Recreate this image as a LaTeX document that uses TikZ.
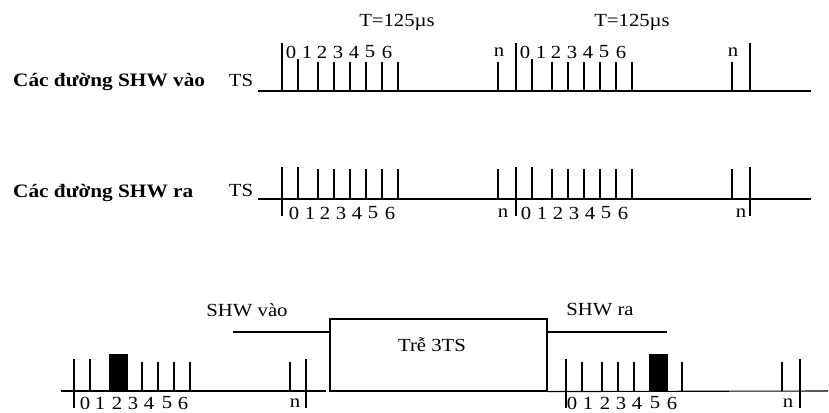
\documentclass[tikz,border=0pt]{standalone}
\usepackage{fontspec}
\setmainfont{Liberation Serif}[FakeStretch=1.12]
\begin{document}
\begin{tikzpicture}[x=1pt,y=-1pt,
  lbl/.style={inner sep=0pt,font=\fontsize{18.5}{18.5}\selectfont},
  ttl/.style={inner sep=0pt,anchor=west,font=\fontsize{19}{19}\selectfont\bfseries},
  base/.style={line width=1.1pt},
  tick/.style={line width=1.4pt},
  blk/.style={fill=black,draw=black,line width=0.8pt}]
\useasboundingbox (0,0) rectangle (829,412);
% ---------- top row (input) ----------
\node[ttl] (t1) at (13,82) {Các đường SHW vào};
\node[lbl] (ts1) at (241,80) {TS};
\coordinate (a1) at (258,91); \coordinate (a2) at (811,91);
\draw[base] (a1) -- (a2);
\node[lbl] (T1) at (397,22) {T=125µs};
\node[lbl] (T2) at (632,22) {T=125µs};
\foreach \x in {282,516,750} \draw[tick] (\x,43) -- (\x,91);
\foreach \x in {298,532} \draw[tick] (\x,59) -- (\x,91);
\foreach \x in {318,334,350,366,382,398,498,552,568,584,600,616,632,732} \draw[tick] (\x,62) -- (\x,91);
\foreach \d/\x in {0/291,1/307,2/322,3/338,4/354,5/370,6/387,0/525,1/541,2/556,3/572,4/588,5/604,6/621}
  \node[lbl] at (\x,52) {\d};
\node[lbl] (n1) at (499,52) {n};
\node[lbl] (n2) at (733,52) {n};
% ---------- middle row (output) ----------
\node[ttl] (t2) at (13,193) {Các đường SHW ra};
\node[lbl] (ts2) at (241,190) {TS};
\coordinate (b1) at (258,199); \coordinate (b2) at (811,199);
\draw[base] (b1) -- (b2);
\foreach \x in {282,516,750} \draw[tick] (\x,167) -- (\x,216);
\foreach \x in {298,532} \draw[tick] (\x,167) -- (\x,199);
\foreach \x in {318,334,350,366,382,398,498,552,568,584,600,616,632,732} \draw[tick] (\x,169) -- (\x,199);
\foreach \d/\x in {0/294,1/310,2/325,3/341,4/357,5/373,6/390,0/526,1/542,2/558,3/574,4/590,5/606,6/623}
  \node[lbl] at (\x,213) {\d};
\node[lbl] (n3) at (503,213) {n};
\node[lbl] (n4) at (741,213) {n};
% ---------- bottom row (delay) ----------
\node[lbl] (vin) at (247,310) {SHW vào};
\node[lbl] (vout) at (600,310) {SHW ra};
\node[draw,line width=1.1pt,minimum width=217pt,minimum height=72pt,inner sep=0pt] (box) at (438.5,355) {};
\node[lbl] (dl) at (432,345) {Trễ 3TS};
\coordinate (c1) at (233,332); \coordinate (c2) at (667,332);
\draw[base] (c1) -- (c1 -| box.west);
\draw[base] (box.south east |- c2) -- (c2);
\coordinate (d1) at (61,391); \coordinate (d2) at (326,391);
\coordinate (e2) at (828,391);
\draw[base] (d1) -- (d2);
\draw[base] (box.south east) -- (e2);
\foreach \x in {74,306,566,800} \draw[tick] (\x,359) -- (\x,408);
\draw[tick] (90,359) -- (90,391);
\foreach \x in {142,158,174,190,290,582,602,618,634,682,782} \draw[tick] (\x,362) -- (\x,391);
\draw[blk] (109,354) rectangle (127,391);
\draw[blk] (649,354) rectangle (667,391);
\foreach \d/\x in {0/85,1/100,2/117,3/133,4/149,5/167,6/183,0/572,1/588,2/605,3/621,4/637,5/655,6/672}
  \node[lbl] at (\x,403) {\d};
\node[lbl] (n5) at (295,403) {n};
\node[lbl] (n6) at (788,403) {n};
\end{tikzpicture}
\end{document}
